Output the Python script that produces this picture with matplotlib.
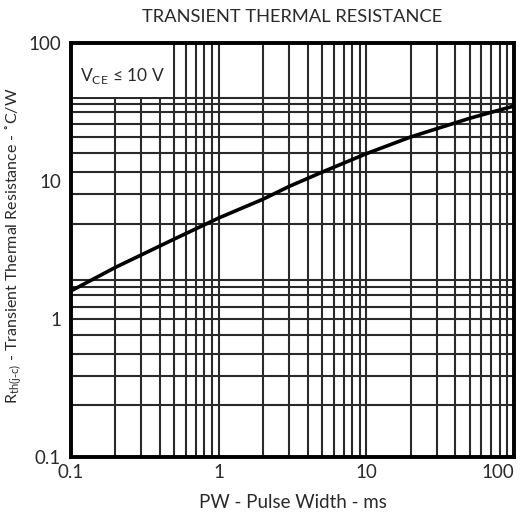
import matplotlib
matplotlib.use("Agg")
import matplotlib.pyplot as plt
from matplotlib.patches import Rectangle

plt.rcParams["font.family"] = ["Lato", "DejaVu Sans"]

# curve: pulse width (ms) vs Rth(j-c) (C/W)
pulse_ms = [0.1, 0.2, 0.5, 1, 2, 3, 5, 10, 20, 50, 100]
rth = [1.6, 2.37, 3.8, 5.4, 7.4, 9.15, 11.6, 15.8, 20.9, 28.5, 35.0]

# grid lines as drawn on the sheet
x_grid = [0.2, 0.3, 0.4, 0.5, 0.6, 0.7, 0.8, 0.9, 1,
          2, 3, 4, 5, 6, 7, 8, 9, 10,
          20, 30, 40, 50, 60, 70, 80, 90]
y_grid = [39.9, 36.1, 31.5, 25.8, 20.8, 15.9, 11.6, 8.0, 4.85,
          1.93, 1.72, 1.50, 1.23, 1.0, 0.77, 0.56, 0.39, 0.24]

ticks = [0.1, 1, 10, 100]
tick_labels = ["0.1", "1", "10", "100"]

text_color = "#2a2a2a"

fig = plt.figure(figsize=(5.21, 5.12), dpi=100)
ax = fig.add_axes([0.136, 0.107, 0.851, 0.809])
ax.set_xscale("log")
ax.set_yscale("log")
ax.set_xlim(0.1, 100)
ax.set_ylim(0.1, 100)

grid_color = "#2a2a2a"
for xv in x_grid:
    ax.axvline(xv, color=grid_color, lw=1.5, zorder=1)
for yv in y_grid:
    ax.axhline(yv, color=grid_color, lw=1.5, zorder=1)

# white box behind the condition label
ax.add_patch(Rectangle((0.1, 40.5), 0.49 - 0.1, 100 - 40.5,
                       facecolor="white", edgecolor="none", zorder=2))
ax.text(0.116, 58, r"V$_\mathregular{CE}$ ≤ 10 V", fontsize=12.5,
        color=text_color, va="center", ha="left", zorder=3)

ax.plot(pulse_ms, rth, color="black", lw=2.6, zorder=4,
        solid_capstyle="butt")

for s in ax.spines.values():
    s.set_linewidth(2.8)
    s.set_zorder(5)

ax.set_xticks(ticks, tick_labels)
ax.set_yticks(ticks, tick_labels)
ax.minorticks_off()
ax.tick_params(length=0, labelsize=13.5, labelcolor=text_color)
ax.tick_params(axis="x", pad=5)
ax.tick_params(axis="y", pad=7)
ax.get_xticklabels()[-1].set_horizontalalignment("right")
ax.get_xticklabels()[-1].set_x(1.0)

ax.set_xlabel("PW - Pulse Width - ms", fontsize=13.5, color=text_color,
              labelpad=9)
ax.set_ylabel(r"R$_\mathregular{th(j\text{-}c)}$ - Transient Thermal Resistance - ˚C/W",
              fontsize=11.5, color=text_color)
ax.yaxis.label.set_verticalalignment("center")
ax.yaxis.set_label_coords(-0.128, 0.51)
ax.set_title("TRANSIENT THERMAL RESISTANCE", fontsize=13.2, color=text_color,
             pad=15)

fig.savefig("out.png", dpi=100)
